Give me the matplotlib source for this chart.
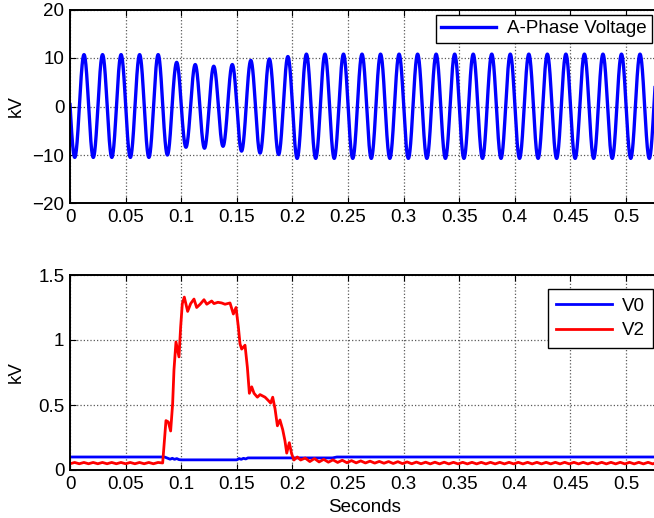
import numpy as np
import matplotlib
matplotlib.use("Agg")
from matplotlib import pyplot as plt

plt.rcParams['font.family'] = ['Liberation Sans', 'DejaVu Sans']
plt.rcParams['font.size'] = 13.5

# axis ticks
x_ticks = [0, 0.05, 0.1, 0.15, 0.2, 0.25, 0.3, 0.35, 0.4, 0.45, 0.5]
x_labels = ["0", "0.05", "0.1", "0.15", "0.2", "0.25", "0.3", "0.35", "0.4", "0.45", "0.5"]
top_yticks = [-20, -10, 0, 10, 20]
bot_yticks = [0, 0.5, 1, 1.5]
bot_ylabels = ["0", "0.5", "1", "1.5"]

# A-phase voltage: 60 Hz, peak values of each positive / negative half cycle (kV)
freq = 60.0
first_peak = 0.0126
peak_kv = [10.7, 10.7, 10.7, 10.7, 10.7, 10.7, 9.1, 8.65, 8.3, 8.65, 9.5,
           9.8, 10.3, 10.8, 10.8, 10.8, 10.8, 10.8, 10.8, 10.8, 10.8, 10.8,
           10.8, 10.8, 10.8, 10.8, 10.8, 10.8, 10.8, 10.8, 10.8, 10.8, 10.8]
trough_kv = [-10.5, -10.5, -10.5, -10.5, -10.5, -10.0, -8.4, -8.6, -8.2, -9.2, -9.6,
             -9.9, -10.7, -10.7, -10.7, -10.7, -10.7, -10.7, -10.7, -10.7, -10.7,
             -10.7, -10.7, -10.7, -10.7, -10.7, -10.7, -10.7, -10.7, -10.7, -10.7, -10.7]

# zero sequence V0 (kV)
t_v0 = [0, 0.085, 0.088, 0.090, 0.092, 0.094, 0.096, 0.098, 0.100, 0.150,
        0.152, 0.154, 0.156, 0.158, 0.160, 0.236, 0.240, 0.53]
v0 = [0.100, 0.100, 0.090, 0.083, 0.090, 0.082, 0.088, 0.080, 0.078, 0.078,
      0.088, 0.082, 0.090, 0.085, 0.093, 0.093, 0.100, 0.100]

# negative sequence V2 (kV): before sag, sag, after sag
v2_pre = [0.048, 0.058, 0.048, 0.058, 0.048, 0.058, 0.048, 0.058, 0.048, 0.058,
          0.048, 0.058, 0.048, 0.058, 0.048, 0.058, 0.048, 0.058, 0.048, 0.058, 0.054]
t_v2_sag = [0.0863, 0.0884, 0.0905, 0.0923, 0.0935, 0.0953, 0.0980, 0.0995, 0.1010,
            0.1028, 0.1058, 0.1085, 0.1115, 0.1139, 0.1170, 0.1205, 0.1230, 0.1274,
            0.1295, 0.1330, 0.1364, 0.1394, 0.1439, 0.1469, 0.1493, 0.1514, 0.1529,
            0.1544, 0.1574, 0.1595, 0.1613, 0.1634, 0.1655, 0.1685, 0.1709, 0.1754,
            0.1783, 0.1804, 0.1823, 0.1844, 0.1865, 0.1888, 0.1913, 0.1933, 0.1949,
            0.1972, 0.1993, 0.2014, 0.2044, 0.2074]
v2_sag = [0.38, 0.37, 0.30, 0.51, 0.77, 0.985, 0.87, 1.10, 1.28,
          1.33, 1.22, 1.28, 1.315, 1.25, 1.275, 1.31, 1.275, 1.30,
          1.28, 1.29, 1.285, 1.275, 1.285, 1.20, 1.25, 1.10, 0.97,
          0.93, 0.96, 0.79, 0.59, 0.64, 0.59, 0.56, 0.58, 0.56,
          0.535, 0.515, 0.56, 0.47, 0.34, 0.385, 0.31, 0.225, 0.13,
          0.21, 0.125, 0.077, 0.10, 0.077]
v2_post = [0.092, 0.065, 0.088, 0.062, 0.082, 0.060, 0.078, 0.058, 0.075, 0.056,
           0.072, 0.055, 0.070, 0.054, 0.068, 0.053, 0.066, 0.052, 0.065, 0.050,
           0.064, 0.049, 0.062, 0.048, 0.061, 0.048, 0.060, 0.047, 0.060, 0.047,
           0.060, 0.047, 0.059, 0.047, 0.059, 0.047, 0.059, 0.047, 0.059, 0.047,
           0.059, 0.047, 0.059, 0.047, 0.059, 0.047, 0.059, 0.047, 0.059, 0.047,
           0.059, 0.047, 0.059, 0.047, 0.059, 0.047, 0.059, 0.047, 0.059, 0.047,
           0.059, 0.047, 0.059, 0.047, 0.059, 0.047, 0.059, 0.047, 0.059, 0.047,
           0.059, 0.047, 0.059, 0.047, 0.059, 0.047, 0.059]

ripple_step = 1 / 240.0
t_v2 = np.concatenate([np.arange(len(v2_pre)) * ripple_step,
                       t_v2_sag,
                       0.2115 + np.arange(len(v2_post)) * ripple_step])
v2 = np.concatenate([v2_pre, v2_sag, v2_post])

# build the sampled waveform from the half-cycle peaks
t = np.linspace(0, 0.53, 8000)
n = np.round((t - first_peak) * 2 * freq).astype(int)
pk = np.array(peak_kv)
tr = np.array(trough_kv)
amp = np.where(n % 2 == 0, pk[n // 2 + 1], -tr[(n + 1) // 2])
va = amp * np.cos(2 * np.pi * freq * (t - first_peak))

fig = plt.figure(figsize=(6.54, 5.18), dpi=100)
W, H = 654.0, 518.0
x0 = 70 / W
xmax = 0.53
ax_w = xmax * 1112 / W
ax1 = fig.add_axes([x0, 1 - 203.5 / H, ax_w, 194 / H])
ax2 = fig.add_axes([x0, 1 - 470 / H, ax_w, 195 / H])

ax1.plot(t, va, color=(0, 0, 1), lw=2.4, label="A-Phase Voltage")
ax2.plot(t_v0, v0, color=(0, 0, 1), lw=2.0, label="V0")
ax2.plot(t_v2, v2, color=(1, 0, 0), lw=2.0, label="V2")

ax1.set_ylim(-20, 20)
ax1.set_yticks(top_yticks)
ax2.set_ylim(0, 1.5)
ax2.set_yticks(bot_yticks)
ax2.set_yticklabels(bot_ylabels)

for ax in (ax1, ax2):
    ax.set_xlim(0, xmax)
    ax.set_xticks(x_ticks)
    ax.set_xticklabels(x_labels)
    ax.grid(True, color=(0.35, 0.35, 0.35), linestyle=':', linewidth=0.9)
    ax.tick_params(direction='in', length=4, width=0.8, top=True, right=True, pad=4)
    for s in ax.spines.values():
        s.set_linewidth(1.4)
    ax.set_ylabel("kV")
    ax.yaxis.set_label_coords(-0.077, 0.5)

ax2.set_xlabel("Seconds", labelpad=5)

leg1 = ax1.legend(loc='upper right', bbox_to_anchor=(652 / W, 1 - 14.7 / H),
                  bbox_transform=fig.transFigure, borderaxespad=0, fancybox=False,
                  framealpha=1, edgecolor='black', handlelength=2.9, borderpad=0.3,
                  handletextpad=0.6)
leg1.get_frame().set_linewidth(1.0)
leg2 = ax2.legend(loc='upper right', bbox_to_anchor=(653 / W, 1 - 289.3 / H),
                  bbox_transform=fig.transFigure, borderaxespad=0, fancybox=False,
                  framealpha=1, edgecolor='black', handlelength=3.0, borderpad=0.45,
                  handletextpad=0.5, labelspacing=0.4)
leg2.get_frame().set_linewidth(1.0)

fig.savefig("out.png", dpi=100)
